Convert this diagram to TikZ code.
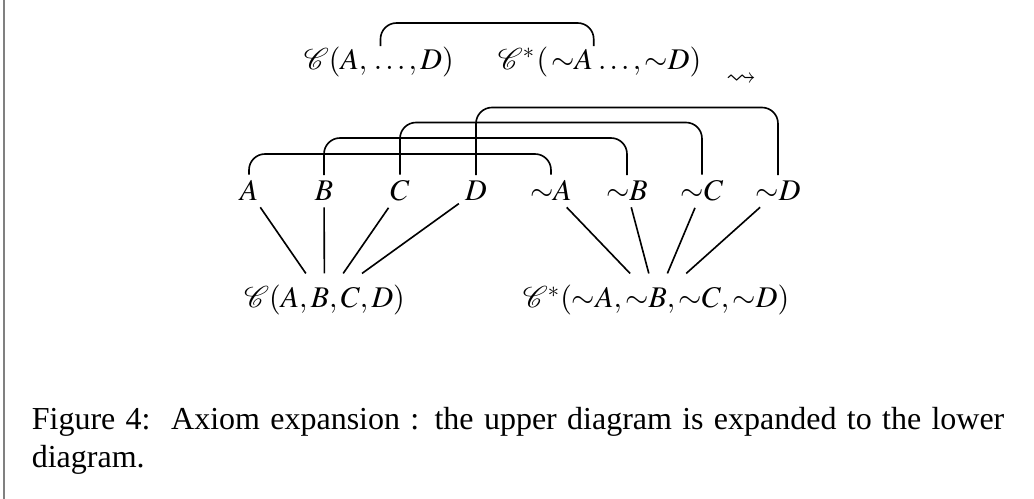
\documentclass[tikz,border=0pt,12pt]{standalone}
\usepackage{mathptmx}
\usepackage{amssymb}
\usepackage{mathrsfs}
\usepackage{fontspec}
\setmainfont{Liberation Serif}
\newcommand{\mysim}[1]{{\sim}#1}
\begin{document}
\begin{tikzpicture}[x=0.4pt,y=-0.4pt,line width=0.65pt,
  font=\fontsize{12}{14.5}\selectfont,
  lettr/.style={inner sep=2.2pt,anchor=base},
  lbl/.style={inner sep=4.5pt,anchor=base},
  piece/.style={inner sep=0pt,anchor=base west},
  link/.style={rounded corners=6.4pt},
  captxt/.style={anchor=base west,text width=389pt,align=justify,inner sep=0pt,
    font=\fontsize{12.8}{15.5}\selectfont}]
\useasboundingbox (0,0) rectangle (1034,499);
\draw[gray,line width=0.6pt] (4,0) -- (4,499);
% top row
\node[piece,anchor=base east] (t1a) at (368,69.5) {$\mathscr{C}(A,$};
\node[piece] (t1b) at (373,69.5) {$\ldots,D)$};
\node[piece] (t2a) at (497,69.5) {$\mathscr{C}^*\kern0.5pt(\kern1.2pt\mysim{A}$};
\node[piece] (t2b) at ([xshift=1.4pt]t2a.base east) {$\ldots,\mysim{D})$};
\node (sq) at (741,80) {$\leadsto$};
\coordinate (h0) at (0,23);
\draw[link] ([xshift=3]t1b.north west) -- ([xshift=3]t1b.north west |- h0) -- (t2a.north east |- h0) -- (t2a.north east);
% middle row
\node[lettr] (A) at (249,201) {$A$};
\node[lettr] (B) at (324,201) {$B$};
\node[lettr] (C) at (400,201) {$C$};
\node[lettr] (D) at (476,201) {$D$};
\node[lettr] (nA) at (551,201) {$\mysim{A}$};
\node[lettr] (nB) at (627,201) {$\mysim{B}$};
\node[lettr] (nC) at (702,201) {$\mysim{C}$};
\node[lettr] (nD) at (778,201) {$\mysim{D}$};
\coordinate (h1) at (0,154);
\coordinate (h2) at (0,138);
\coordinate (h3) at (0,122.5);
\coordinate (h4) at (0,107.5);
\draw[link] (A.north) -- (A.north |- h1) -- (nA.north |- h1) -- (nA.north);
\draw[link] (B.north) -- (B.north |- h2) -- (nB.north |- h2) -- (nB.north);
\draw[link] (C.north) -- (C.north |- h3) -- (nC.north |- h3) -- (nC.north);
\draw[link] (D.north) -- (D.north |- h4) -- (nD.north |- h4) -- (nD.north);
% bottom labels
\node[lbl] (L) at (324.5,308) {$\mathscr{C}(A,B,C,D)$};
\node[lbl] (R) at (656,308) {$\mathscr{C}^*(\mysim{A},\mysim{B},\mysim{C},\mysim{D})$};
\draw (A) -- (L); \draw (B) -- (L); \draw (C) -- (L); \draw (D) -- (L);
\draw (nA) -- (R); \draw (nB) -- (R); \draw (nC) -- (R); \draw (nD) -- (R);
% caption
\node[captxt] (cap) at (31,429)
  {Figure 4:\ \ Axiom expansion : the upper diagram is expanded to the lower\linebreak diagram.};
\end{tikzpicture}
\end{document}
